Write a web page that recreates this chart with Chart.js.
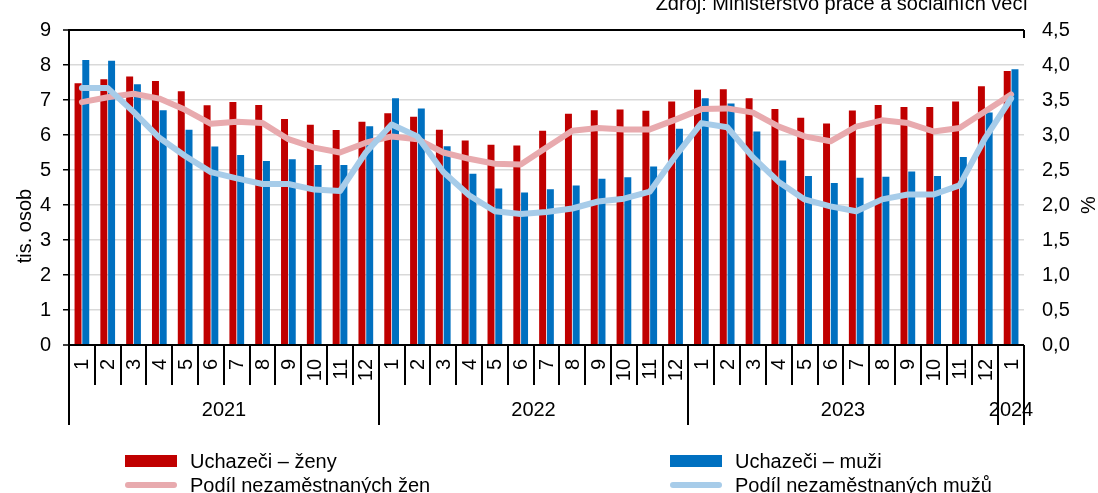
<!DOCTYPE html>
<html>
<head>
<meta charset="utf-8">
<script src="https://cdn.jsdelivr.net/npm/chart.js@4"></script>
<style>
  body { margin: 0; background: #fff; }
  #wrap { width: 1098px; height: 493px; }
</style>
</head>
<body>
<div id="wrap"><canvas id="UnempChart" width="1098" height="493"></canvas></div>
<script>
// categories
const months = ["1","2","3","4","5","6","7","8","9","10","11","12",
                "1","2","3","4","5","6","7","8","9","10","11","12",
                "1","2","3","4","5","6","7","8","9","10","11","12",
                "1"];
const years = ["2021", "2022", "2023", "2024"];
const yearCounts = [12, 12, 12, 1];

const seriesNames = ["Uchazeči – ženy", "Uchazeči – muži", "Podíl nezaměstnaných žen", "Podíl nezaměstnaných mužů"];

// tis. osob
const zeny = [7.48, 7.59, 7.67, 7.54, 7.25, 6.85, 6.94, 6.86, 6.46, 6.29, 6.14, 6.38,
              6.62, 6.52, 6.15, 5.84, 5.72, 5.70, 6.12, 6.61, 6.71, 6.73, 6.69, 6.96,
              7.29, 7.31, 7.05, 6.74, 6.49, 6.33, 6.70, 6.86, 6.80, 6.80, 6.96, 7.39,
              7.83];
const muzi = [8.14, 8.12, 7.45, 6.71, 6.15, 5.67, 5.43, 5.26, 5.31, 5.14, 5.14, 6.25,
              7.05, 6.76, 5.68, 4.89, 4.47, 4.36, 4.45, 4.56, 4.75, 4.79, 5.10, 6.18,
              7.05, 6.90, 6.10, 5.27, 4.83, 4.63, 4.78, 4.81, 4.96, 4.83, 5.37, 6.64,
              7.88];
// %
const podilZen = [3.47, 3.54, 3.59, 3.52, 3.36, 3.16, 3.19, 3.17, 2.94, 2.82, 2.75, 2.89,
                  2.98, 2.94, 2.75, 2.66, 2.59, 2.58, 2.82, 3.06, 3.10, 3.08, 3.08, 3.22,
                  3.37, 3.38, 3.32, 3.12, 2.98, 2.91, 3.12, 3.21, 3.17, 3.05, 3.10, 3.34,
                  3.58];
const podilMuzu = [3.67, 3.67, 3.33, 2.96, 2.70, 2.47, 2.38, 2.30, 2.30, 2.22, 2.20, 2.75,
                   3.15, 2.98, 2.47, 2.14, 1.91, 1.87, 1.90, 1.95, 2.05, 2.09, 2.19, 2.70,
                   3.17, 3.11, 2.68, 2.33, 2.08, 1.98, 1.91, 2.08, 2.15, 2.15, 2.28, 2.96,
                   3.52];

const RED = "#C00000";
const BLUE = "#0070C0";
const PINK = "#E8AAAE";
const LIGHTBLUE = "#A7CCE9";
const FONT = "'Liberation Sans', Arial, sans-serif";

Chart.defaults.font.family = FONT;
Chart.defaults.font.size = 20;
Chart.defaults.color = "#000";

// x axis labels, titles, legend and source text
const extras = {
  id: "extras",
  afterDraw(chart) {
    const ctx = chart.ctx;
    const xs = chart.scales.x;
    const area = chart.chartArea;
    const w = (area.right - area.left) / months.length;
    ctx.save();
    ctx.fillStyle = "#000";
    ctx.strokeStyle = "#000";
    ctx.font = "20px " + FONT;

    // month labels + short separators
    ctx.lineWidth = 2;
    for (let i = 0; i <= months.length; i++) {
      const x = Math.round(area.left + i * w);
      ctx.beginPath();
      ctx.moveTo(x, area.bottom);
      ctx.lineTo(x, area.bottom + 40);
      ctx.stroke();
    }
    months.forEach((m, i) => {
      const cx = xs.getPixelForValue(i);
      ctx.save();
      ctx.translate(cx, area.bottom + 14);
      ctx.rotate(-Math.PI / 2);
      ctx.textAlign = "right";
      ctx.textBaseline = "middle";
      ctx.fillText(m, 0, 1);
      ctx.restore();
    });

    // year groups
    let start = 0;
    years.forEach((y, k) => {
      const x0 = Math.round(area.left + start * w);
      const x1 = Math.round(area.left + (start + yearCounts[k]) * w);
      ctx.beginPath();
      ctx.moveTo(x0, area.bottom);
      ctx.lineTo(x0, area.bottom + 80);
      ctx.moveTo(x1, area.bottom);
      ctx.lineTo(x1, area.bottom + 80);
      ctx.stroke();
      ctx.textAlign = "center";
      ctx.textBaseline = "alphabetic";
      ctx.fillText(y, (x0 + x1) / 2, area.bottom + 71);
      start += yearCounts[k];
    });

    // right border stub at top
    ctx.beginPath();
    ctx.moveTo(area.right, area.top);
    ctx.lineTo(area.right, area.top + 8);
    ctx.stroke();

    // axis titles
    ctx.save();
    ctx.translate(25, 226);
    ctx.rotate(-Math.PI / 2);
    ctx.textAlign = "center";
    ctx.textBaseline = "middle";
    ctx.fillText("tis. osob", 0, 0);
    ctx.restore();
    ctx.save();
    ctx.translate(1089, 205);
    ctx.rotate(-Math.PI / 2);
    ctx.textAlign = "center";
    ctx.textBaseline = "middle";
    ctx.fillText("%", 0, 0);
    ctx.restore();

    // source
    ctx.textAlign = "right";
    ctx.textBaseline = "alphabetic";
    ctx.fillText("Zdroj: Ministerstvo práce a sociálních věcí", 1028, 10);

    // legend
    const legend = [
      { x: 125, y: 461, kind: "bar", color: RED, text: seriesNames[0] },
      { x: 670, y: 461, kind: "bar", color: BLUE, text: seriesNames[1] },
      { x: 125, y: 485, kind: "line", color: PINK, text: seriesNames[2] },
      { x: 670, y: 485, kind: "line", color: LIGHTBLUE, text: seriesNames[3] }
    ];
    legend.forEach(it => {
      if (it.kind === "bar") {
        ctx.fillStyle = it.color;
        ctx.fillRect(it.x, it.y - 6, 52, 12);
      } else {
        ctx.strokeStyle = it.color;
        ctx.lineWidth = 6;
        ctx.lineCap = "round";
        ctx.beginPath();
        ctx.moveTo(it.x + 3, it.y);
        ctx.lineTo(it.x + 49, it.y);
        ctx.stroke();
      }
      ctx.fillStyle = "#000";
      ctx.textAlign = "left";
      ctx.textBaseline = "alphabetic";
      ctx.fillText(it.text, it.x + 65, it.y + 7);
    });
    ctx.restore();
  }
};

const CHART = document.getElementById("UnempChart");

let UnempChart = new Chart(CHART, {
  type: "bar",
  data: {
    labels: months,
    datasets: [
      {
        type: "line",
        label: seriesNames[3],
        data: podilMuzu,
        yAxisID: "y1",
        borderColor: LIGHTBLUE,
        backgroundColor: LIGHTBLUE,
        borderWidth: 6,
        pointRadius: 0,
        tension: 0,
        borderJoinStyle: "round",
        borderCapStyle: "round",
        order: 0
      },
      {
        type: "line",
        label: seriesNames[2],
        data: podilZen,
        yAxisID: "y1",
        borderColor: PINK,
        backgroundColor: PINK,
        borderWidth: 6,
        pointRadius: 0,
        tension: 0,
        borderJoinStyle: "round",
        borderCapStyle: "round",
        order: 1
      },
      {
        label: seriesNames[0],
        data: zeny,
        yAxisID: "y",
        backgroundColor: RED,
        barPercentage: 0.9,
        categoryPercentage: 0.6,
        order: 2
      },
      {
        label: seriesNames[1],
        data: muzi,
        yAxisID: "y",
        backgroundColor: BLUE,
        barPercentage: 0.9,
        categoryPercentage: 0.6,
        order: 3
      }
    ]
  },
  options: {
    responsive: false,
    animation: false,
    layout: { padding: { top: 23, bottom: 148, left: 0, right: 0 } },
    plugins: {
      legend: { display: false },
      tooltip: { enabled: false }
    },
    scales: {
      x: {
        display: false,
        offset: true
      },
      y: {
        position: "left",
        min: 0,
        max: 9,
        afterFit: s => { s.width = 69; },
        ticks: { stepSize: 1, padding: 12, color: "#000", font: { size: 20 } },
        grid: {
          color: c => (c.tick && (c.tick.value === 0 || c.tick.value === 9)) ? "#000" : "#D9D9D9",
          lineWidth: c => (c.tick && (c.tick.value === 0 || c.tick.value === 9)) ? 2 : 1.5,
          tickColor: "#000",
          tickLength: 6,
          tickWidth: 1.5
        },
        border: { display: true, color: "#000", width: 2 }
      },
      y1: {
        position: "right",
        min: 0,
        max: 4.5,
        afterFit: s => { s.width = 74; },
        ticks: {
          stepSize: 0.5,
          padding: 18,
          color: "#000",
          font: { size: 20 },
          callback: v => v.toFixed(1).replace(".", ",")
        },
        grid: { drawOnChartArea: false, drawTicks: false },
        border: { display: false }
      }
    }
  },
  plugins: [extras]
});
</script>
</body>
</html>
